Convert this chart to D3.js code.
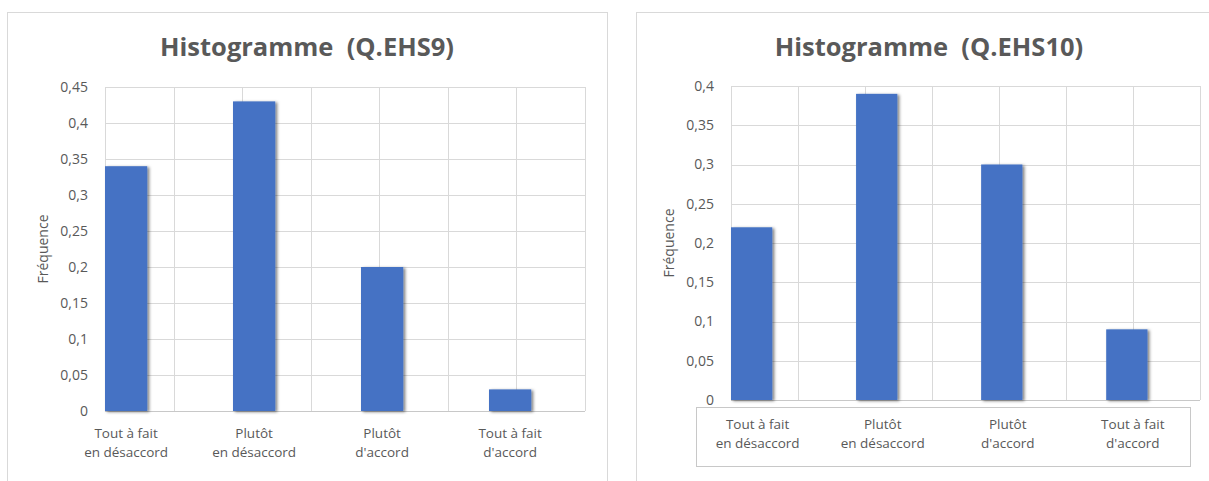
<!DOCTYPE html>
<html>
<head>
<meta charset="utf-8">
<script src="https://cdn.jsdelivr.net/npm/d3@7"></script>
<style>
  body { margin: 0; background: #fff; }
  svg text { font-family: "Open Sans", "DejaVu Sans", sans-serif; fill: #595959; }
</style>
</head>
<body>
<div id="chart"></div>
<script>
// Data
const categories = [
    ["Tout à fait", "en désaccord"],
    ["Plutôt", "en désaccord"],
    ["Plutôt", "d'accord"],
    ["Tout à fait", "d'accord"]
];
const valuesEHS9 = [0.34, 0.43, 0.20, 0.03];
const valuesEHS10 = [0.22, 0.39, 0.30, 0.09];
const ticksEHS9 = [0, 0.05, 0.1, 0.15, 0.2, 0.25, 0.3, 0.35, 0.4, 0.45];
const ticksEHS10 = [0, 0.05, 0.1, 0.15, 0.2, 0.25, 0.3, 0.35, 0.4];

const W = 1209, H = 481;
const fr = d3.formatLocale({decimal: ",", thousands: " ", grouping: [3], currency: ["", "€"]});
const fmt = v => fr.format("~f")(+v.toFixed(2));

const svg = d3.select("#chart").append("svg")
    .attr("width", W)
    .attr("height", H);

// bar shadow like excel
const defs = svg.append("defs");
defs.append("filter")
    .attr("id", "shadow")
    .attr("x", "-20%").attr("y", "-10%")
    .attr("width", "150%").attr("height", "130%")
    .append("feDropShadow")
    .attr("dx", 2).attr("dy", 1)
    .attr("stdDeviation", 1.8)
    .attr("flood-color", "#000")
    .attr("flood-opacity", 0.5);

const drawChart = (opt) => {
    let g = svg.append("g");

    // frame
    g.append("rect")
        .attr("x", opt.frame.x + 0.5)
        .attr("y", opt.frame.y + 0.5)
        .attr("width", opt.frame.w)
        .attr("height", opt.frame.h)
        .attr("fill", "#fff")
        .attr("stroke", "#d9d9d9");

    // title (keep the double space)
    g.append("text")
        .attr("x", opt.frame.x + opt.titleCx)
        .attr("y", 56)
        .attr("text-anchor", "middle")
        .style("font-size", "25.5px")
        .style("font-weight", "bold")
        .style("white-space", "pre")
        .text(opt.title);

    const p = opt.plot;
    let plot = g.append("g").attr("transform", `translate(${p.x},${p.y})`);

    let y = d3.scaleLinear()
        .domain([0, d3.max(opt.ticks)])
        .range([p.h, 0]);

    // categories: step = plot width / 3.75, bar at the left of each step
    let x = d3.scaleBand()
        .domain(d3.range(categories.length))
        .range([0, p.w * categories.length / 3.75])
        .paddingInner(0);
    const barW = x.bandwidth() * 0.33;

    // vertical gridlines (7 intervals)
    let gx = d3.scaleLinear().domain([0, 7]).range([0, p.w]);
    plot.selectAll(".vgrid")
        .data(d3.range(8))
        .enter().append("line")
        .attr("class", "vgrid")
        .attr("x1", d => Math.round(gx(d)) + 0.5)
        .attr("x2", d => Math.round(gx(d)) + 0.5)
        .attr("y1", 0)
        .attr("y2", p.h)
        .attr("stroke", "#d9d9d9");

    // horizontal gridlines
    plot.selectAll(".hgrid")
        .data(opt.ticks)
        .enter().append("line")
        .attr("class", "hgrid")
        .attr("x1", 0)
        .attr("x2", p.w)
        .attr("y1", d => Math.round(y(d)) + 0.5)
        .attr("y2", d => Math.round(y(d)) + 0.5)
        .attr("stroke", d => d === 0 ? "#c8c8c8" : "#d9d9d9");

    // y tick labels
    plot.selectAll(".ytick")
        .data(opt.ticks)
        .enter().append("text")
        .attr("class", "ytick")
        .attr("x", -17)
        .attr("y", d => y(d))
        .attr("dy", "0.35em")
        .attr("text-anchor", "end")
        .style("font-size", "14px")
        .text(fmt);

    // y axis title
    plot.append("text")
        .attr("transform", `translate(-62,${p.h / 2}) rotate(-90)`)
        .attr("text-anchor", "middle")
        .attr("dy", "0.35em")
        .style("font-size", "14px")
        .text("Fréquence");

    // bars
    plot.selectAll(".bar")
        .data(opt.values)
        .enter().append("rect")
        .attr("class", "bar")
        .attr("x", (d, i) => x(i))
        .attr("y", d => y(d))
        .attr("width", barW)
        .attr("height", d => p.h - y(d))
        .attr("fill", "#4472c4")
        .attr("filter", "url(#shadow)");

    // label box (only on the second chart)
    if (opt.labelBox) {
        g.append("rect")
            .attr("x", opt.labelBox.x + 0.5)
            .attr("y", opt.labelBox.y + 0.5)
            .attr("width", opt.labelBox.w)
            .attr("height", opt.labelBox.h)
            .attr("fill", "none")
            .attr("stroke", "#c8c8c8");
    }

    // category labels
    let labels = plot.selectAll(".xlab")
        .data(categories)
        .enter().append("text")
        .attr("class", "xlab")
        .attr("text-anchor", "middle")
        .style("font-size", "13.5px")
        .attr("transform", (d, i) => `translate(${x(i) + barW / 2 + opt.labelDx},${p.h + opt.labelDy})`);
    labels.selectAll("tspan")
        .data(d => d)
        .enter().append("tspan")
        .attr("x", 0)
        .attr("dy", (d, j) => j === 0 ? 0 : 19)
        .text(d => d);

    return g;
};

drawChart({
    title: "Histogramme  (Q.EHS9)",
    frame: {x: 7, y: 12, w: 600, h: 480},
    titleCx: 300,
    plot: {x: 105, y: 87, w: 480, h: 324},
    values: valuesEHS9,
    ticks: ticksEHS9,
    labelDx: 0,
    labelDy: 27
});

drawChart({
    title: "Histogramme  (Q.EHS10)",
    frame: {x: 636, y: 12, w: 600, h: 480},
    titleCx: 293,
    plot: {x: 731, y: 86, w: 469, h: 314},
    values: valuesEHS10,
    ticks: ticksEHS10,
    labelBox: {x: 696, y: 407, w: 494, h: 59},
    labelDx: 6,
    labelDy: 29
});
</script>
</body>
</html>
